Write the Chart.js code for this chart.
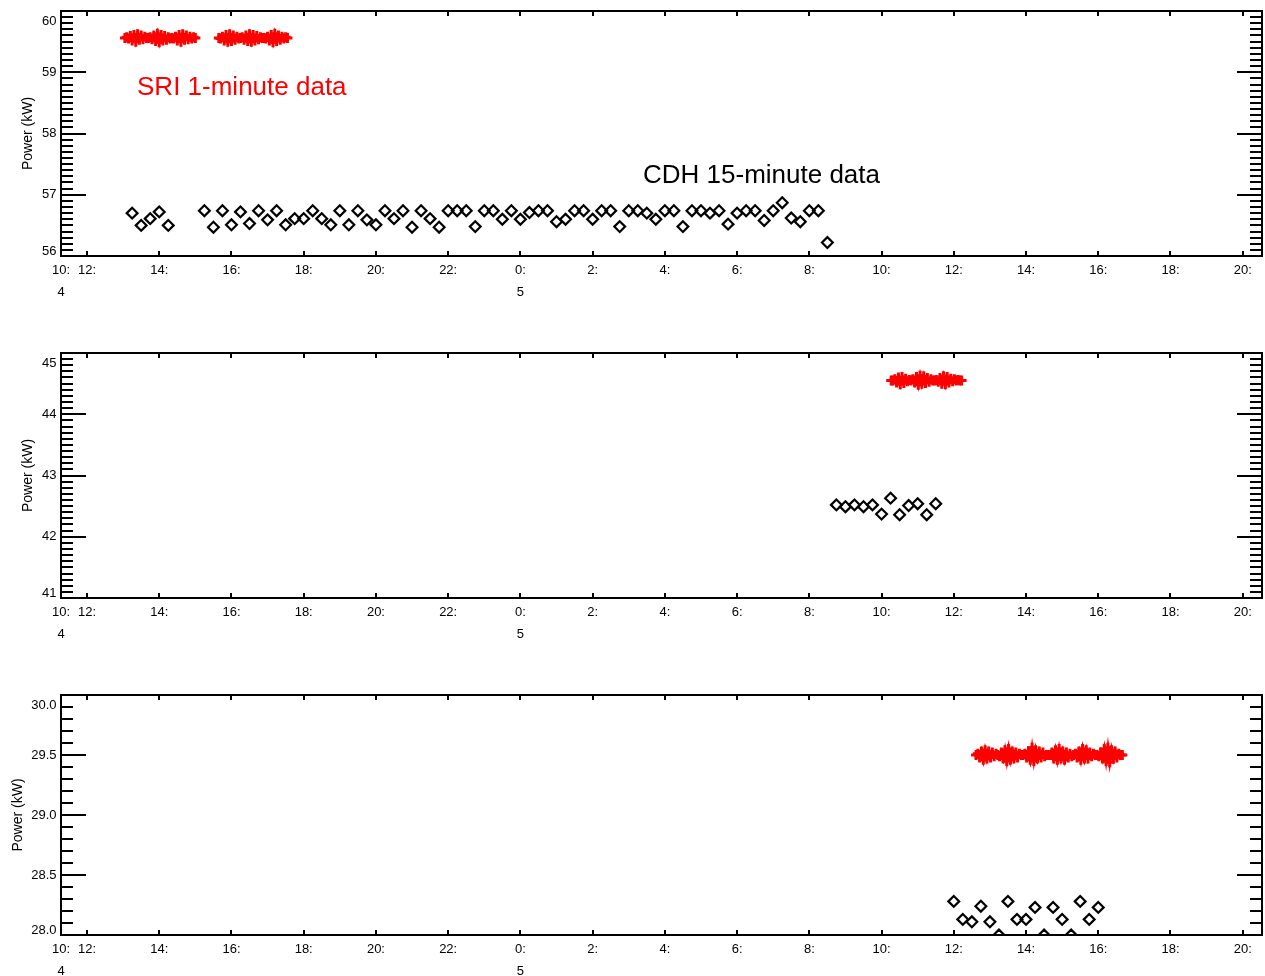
<!DOCTYPE html>
<html>
<head>
<meta charset="utf-8">
<script src="https://cdn.jsdelivr.net/npm/chart.js@4.4.1/dist/chart.umd.min.js"></script>
<style>
  html, body { margin: 0; padding: 0; background: #fff; }
  body { width: 1265px; height: 976px; position: relative; overflow: hidden; }
  canvas { position: absolute; left: 0; }
</style>
</head>
<body>
<canvas id="p1" width="1265" height="320" style="top:0px"></canvas>
<canvas id="p2" width="1265" height="320" style="top:342px"></canvas>
<canvas id="p3" width="1265" height="292" style="top:684px"></canvas>
<script>
// Time axis: hours counted from 00:00 on day 4
const axisStartHour = 11.28;
const axisEndHour = 44.534;
const tickHours  = [12, 14, 16, 18, 20, 22, 24, 26, 28, 30, 32, 34, 36, 38, 40, 42, 44];
const tickLabels = ['12:', '14:', '16:', '18:', '20:', '22:', '0:', '2:', '4:', '6:', '8:', '10:', '12:', '14:', '16:', '18:', '20:'];
const startLabel = '10:';
const dayHours  = [axisStartHour, 24];
const dayLabels = ['4', '5'];

// CDH 15-minute samples (kW)
const cdhStep = 0.25;
const cdh1aStart = 13.25;
const cdh1a = [56.70, 56.50, 56.61, 56.72, 56.50];
const cdh1bStart = 15.25;
const cdh1b = [
  56.74, 56.47, 56.74, 56.51, 56.72, 56.53, 56.74, 56.59, 56.74, 56.51,
  56.61, 56.61, 56.74, 56.61, 56.51, 56.74, 56.51, 56.74, 56.59, 56.51,
  56.74, 56.61, 56.74, 56.47, 56.74, 56.61, 56.47, 56.74, 56.74, 56.74,
  56.48, 56.74, 56.74, 56.60, 56.74, 56.60, 56.71, 56.74, 56.74, 56.56,
  56.60, 56.74, 56.74, 56.60, 56.74, 56.74, 56.48, 56.74, 56.74, 56.70,
  56.60, 56.74, 56.74, 56.48, 56.74, 56.74, 56.70, 56.74, 56.52, 56.70,
  56.74, 56.74, 56.58, 56.74, 56.87, 56.62, 56.56, 56.74, 56.74, 56.22
];
const cdh2Start = 32.75;
const cdh2 = [42.52, 42.49, 42.52, 42.49, 42.52, 42.37, 42.63, 42.36, 42.51, 42.54, 42.36, 42.54];
const cdh3Start = 36.0;
const cdh3 = [28.28, 28.13, 28.11, 28.24, 28.11, 28.00, 28.28, 28.13, 28.13, 28.23, 28.00, 28.23, 28.13, 28.00, 28.28, 28.13, 28.23];

// SRI 1-minute data, shown every third minute (kW)
const sriStep = 0.05;
const sri1aStart = 13.05;
const sri1a = [
  59.56, 59.57, 59.55, 59.59, 59.52, 59.61, 59.50, 59.62, 59.53, 59.60, 59.54, 59.58, 59.56, 59.56,
  59.57, 59.54, 59.60, 59.51, 59.63, 59.49, 59.61, 59.52, 59.59, 59.53, 59.57, 59.55, 59.56,
  59.55, 59.58, 59.52, 59.61, 59.50, 59.62, 59.53, 59.60, 59.54, 59.58, 59.55, 59.57, 59.56
];
const sri1bStart = 15.65;
const sri1b = [
  59.56, 59.55, 59.58, 59.52, 59.61, 59.50, 59.62, 59.51, 59.60, 59.53, 59.58, 59.55, 59.56,
  59.57, 59.53, 59.60, 59.51, 59.62, 59.50, 59.61, 59.52, 59.59, 59.54, 59.57, 59.56, 59.56,
  59.55, 59.58, 59.52, 59.61, 59.49, 59.63, 59.51, 59.60, 59.53, 59.58, 59.55, 59.57, 59.56
];
const sri2Start = 34.267;
const sri2 = [
  44.55, 44.55, 44.57, 44.52, 44.60, 44.49, 44.61, 44.51, 44.58, 44.54, 44.56,
  44.55, 44.57, 44.52, 44.61, 44.48, 44.63, 44.50, 44.62, 44.51, 44.59, 44.53, 44.57, 44.55, 44.55,
  44.56, 44.53, 44.59, 44.50, 44.62, 44.49, 44.61, 44.52, 44.58, 44.54, 44.57, 44.55, 44.56, 44.55, 44.55
];
const sri3Start = 36.617;
const sri3 = [
  29.50, 29.51, 29.48, 29.53, 29.46, 29.54, 29.47, 29.53, 29.48, 29.52, 29.49, 29.51, 29.50,
  29.49, 29.52, 29.47, 29.54, 29.45, 29.55, 29.46, 29.53, 29.47, 29.52, 29.48, 29.51, 29.50, 29.50,
  29.51, 29.48, 29.53, 29.46, 29.56, 29.45, 29.54, 29.47, 29.53, 29.48, 29.52, 29.49, 29.50, 29.50,
  29.50, 29.52, 29.47, 29.54, 29.46, 29.55, 29.47, 29.53, 29.46, 29.52, 29.48, 29.51, 29.49, 29.50,
  29.51, 29.48, 29.53, 29.46, 29.55, 29.47, 29.54, 29.47, 29.52, 29.49, 29.51, 29.50, 29.50,
  29.49, 29.52, 29.47, 29.55, 29.45, 29.56, 29.44, 29.54, 29.47, 29.53, 29.48, 29.51, 29.50, 29.50
];

const FONT = '"Liberation Sans", Arial, Helvetica, sans-serif';

// Turn a regularly sampled series into {x, y} points
function samples(start, step, values) {
  return values.map((v, i) => ({ x: start + i * step, y: v }));
}

function cdhSet(start, values) {
  return {
    data: samples(start, cdhStep, values),
    showLine: false,
    pointStyle: 'rectRot',
    pointRadius: 5.4,
    pointBorderWidth: 2.2,
    pointBorderColor: '#000',
    pointBackgroundColor: 'rgba(0,0,0,0)',
    clip: 0
  };
}

function sriSet(start, values) {
  return {
    data: samples(start, sriStep, values),
    showLine: true,
    borderColor: '#ff0000',
    borderWidth: 3,
    pointStyle: 'cross',
    pointRadius: 5,
    pointBorderWidth: 3,
    pointBorderColor: '#ff0000',
    clip: 0
  };
}

// Frame, ticks and all axis text of one panel
const panelAxes = {
  id: 'panelAxes',
  afterDraw(chart, args, o) {
    const { ctx, chartArea: a, scales: { x, y } } = chart;
    ctx.save();
    ctx.strokeStyle = '#000';
    ctx.lineWidth = 2;
    ctx.lineCap = 'butt';
    ctx.beginPath();
    const n = Math.round((o.yMax - o.yMin) / o.minor);
    const per = Math.round(o.major / o.minor);
    for (let i = 0; i <= n; i++) {
      const py = Math.round(y.getPixelForValue(o.yMin + i * o.minor));
      const len = i % per === 0 ? 25 : 12;
      ctx.moveTo(a.left, py); ctx.lineTo(a.left + len, py);
      ctx.moveTo(a.right, py); ctx.lineTo(a.right - len, py);
    }
    tickHours.forEach(h => {
      const px = Math.round(x.getPixelForValue(h));
      ctx.moveTo(px, a.top); ctx.lineTo(px, a.top + 5);
      ctx.moveTo(px, a.bottom); ctx.lineTo(px, a.bottom - 5);
    });
    ctx.stroke();
    ctx.strokeRect(a.left, a.top, a.right - a.left, a.bottom - a.top);

    ctx.fillStyle = '#000';
    ctx.font = '13px ' + FONT;
    ctx.textBaseline = 'middle';
    ctx.textAlign = 'right';
    for (let i = 0; i <= n; i += per) {
      const v = o.yMin + i * o.minor;
      let py = y.getPixelForValue(v);
      py = Math.min(Math.max(py, a.top + 10), a.bottom - 4.5);
      ctx.fillText(v.toFixed(o.digits), a.left - 4.5, py);
    }

    ctx.textAlign = 'center';
    ctx.fillText(startLabel, x.getPixelForValue(axisStartHour), a.bottom + 14.5);
    tickHours.forEach((h, i) => {
      ctx.fillText(tickLabels[i], x.getPixelForValue(h), a.bottom + 14.5);
    });
    dayHours.forEach((h, i) => {
      ctx.fillText(dayLabels[i], x.getPixelForValue(h), a.bottom + 36.5);
    });

    ctx.save();
    ctx.font = '14px ' + FONT;
    ctx.translate(o.titleX, (a.top + a.bottom) / 2);
    ctx.rotate(-Math.PI / 2);
    ctx.fillText('Power (kW)', 0, 0);
    ctx.restore();

    (o.notes || []).forEach(nt => {
      ctx.font = '26px ' + FONT;
      ctx.fillStyle = nt.color;
      ctx.textAlign = 'left';
      ctx.textBaseline = 'alphabetic';
      ctx.fillText(nt.text, x.getPixelForValue(nt.x), y.getPixelForValue(nt.y));
    });
    ctx.restore();
  }
};

function makePanel(id, datasets, ax, bottomPad) {
  return new Chart(document.getElementById(id), {
    type: 'scatter',
    data: { datasets },
    plugins: [panelAxes],
    options: {
      responsive: false,
      devicePixelRatio: 1,
      animation: false,
      events: [],
      layout: { autoPadding: false, padding: { left: 61, right: 3, top: 11, bottom: bottomPad } },
      scales: {
        x: { type: 'linear', display: false, min: axisStartHour, max: axisEndHour },
        y: { type: 'linear', display: false, min: ax.yMin, max: ax.yMax }
      },
      plugins: {
        legend: { display: false },
        tooltip: { enabled: false },
        panelAxes: ax
      }
    }
  });
}

makePanel('p1',
  [sriSet(sri1aStart, sri1a), sriSet(sri1bStart, sri1b), cdhSet(cdh1aStart, cdh1a), cdhSet(cdh1bStart, cdh1b)],
  { yMin: 56, yMax: 60, major: 1, minor: 0.1, digits: 0, titleX: 28,
    notes: [
      { text: 'SRI 1-minute data', x: 13.385, y: 58.63, color: '#ff0000' },
      { text: 'CDH 15-minute data', x: 27.395, y: 57.196, color: '#000000' }
    ] },
  64);

makePanel('p2',
  [sriSet(sri2Start, sri2), cdhSet(cdh2Start, cdh2)],
  { yMin: 41, yMax: 45, major: 1, minor: 0.1, digits: 0, titleX: 28 },
  64);

makePanel('p3',
  [sriSet(sri3Start, sri3), cdhSet(cdh3Start, cdh3)],
  { yMin: 28, yMax: 30, major: 0.5, minor: 0.1, digits: 1, titleX: 18 },
  41);
</script>
</body>
</html>
